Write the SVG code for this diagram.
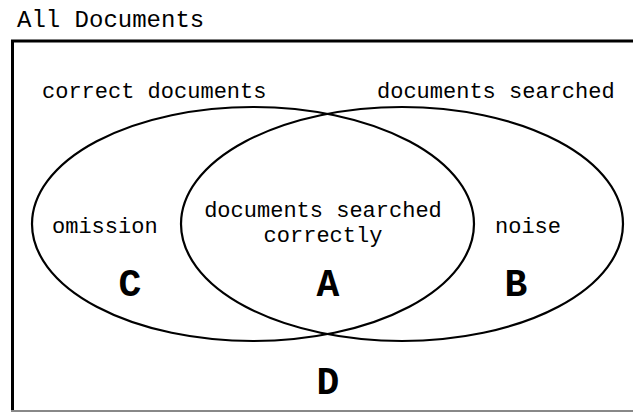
<svg xmlns="http://www.w3.org/2000/svg" width="633" height="412" viewBox="0 0 633 412">
<style>
  .t { font-family: "Liberation Mono", "Courier New", monospace; font-size: 22px; fill: #000; }
  .title { font-family: "Liberation Mono", "Courier New", monospace; font-size: 24px; fill: #000; }
  .big { font-family: "Liberation Mono", "Courier New", monospace; font-size: 38px; font-weight: bold; fill: #000; text-anchor: middle; }
  .set { fill: none; stroke: #000; stroke-width: 2.2; }
</style>
<rect width="633" height="412" fill="#fff"/>
<g id="all-documents">
  <text class="title" x="17" y="27">All Documents</text>
  <path d="M12.5 412 V41 H640" fill="none" stroke="#000" stroke-width="3"/>
  <line x1="11" y1="411" x2="633" y2="411" stroke="#888" stroke-width="2"/>
  <text class="big" x="328" y="394">D</text>
</g>
<g id="correct-documents">
  <ellipse class="set" cx="253" cy="224" rx="221" ry="117"/>
  <text class="t" x="42" y="98">correct documents</text>
  <text class="t" x="52" y="233">omission</text>
  <text class="big" x="130" y="296">C</text>
</g>
<g id="documents-searched">
  <ellipse class="set" cx="402" cy="224" rx="221" ry="117"/>
  <text class="t" x="377" y="98">documents searched</text>
  <text class="t" x="495" y="233">noise</text>
  <text class="big" x="516" y="296">B</text>
</g>
<g id="documents-searched-correctly">
  <text class="t" x="323" y="217" text-anchor="middle">documents searched</text>
  <text class="t" x="323" y="242" text-anchor="middle">correctly</text>
  <text class="big" x="328" y="296">A</text>
</g>
</svg>
